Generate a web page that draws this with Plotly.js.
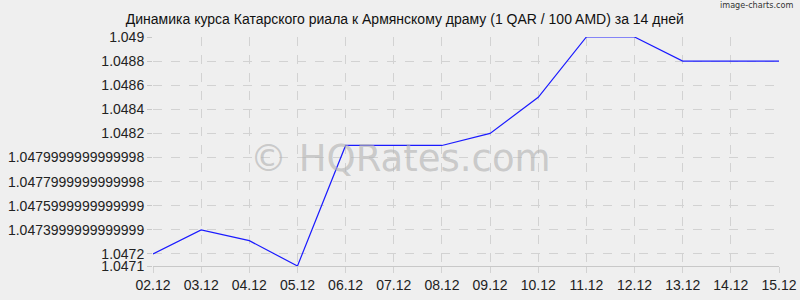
<!DOCTYPE html>
<html>
<head>
<meta charset="utf-8">
<script src="https://cdn.plot.ly/plotly-3.0.1.min.js"></script>
<style>html,body{margin:0;padding:0;background:#efefef;}#chart{width:800px;height:300px;}</style>
</head>
<body>
<div id="chart"></div>
<script>
const dates = ["02.12","03.12","04.12","05.12","06.12","07.12","08.12","09.12","10.12","11.12","12.12","13.12","14.12","15.12"];
const rates = [1.0472,1.0474,1.04731,1.0471,1.0481,1.0481,1.0481,1.0482,1.0485,1.049,1.049,1.0488,1.0488,1.0488];
const yTickVals = [1.049,1.0488,1.0486,1.0484,1.0482,1.048,1.0478,1.0476,1.0474,1.0472,1.0471];
const yTickText = ["1.049","1.0488","1.0486","1.0484","1.0482","1.0479999999999998","1.0477999999999998","1.0475999999999999","1.0473999999999999","1.0472","1.0471"];
const titleText = "Динамика курса Катарского риала к Армянскому драму (1 QAR / 100 AMD) за 14 дней";

const trace = {
  x: dates, y: rates, type: 'scatter', mode: 'lines',
  line: {color: '#1a1aff', width: 1.2}, hoverinfo: 'skip'
};
const layout = {
  width: 800, height: 300,
  paper_bgcolor: '#efefef', plot_bgcolor: '#efefef',
  margin: {l: 153, r: 21, t: 37, b: 34},
  showlegend: false,
  font: {family: 'Liberation Sans, Arial, sans-serif', color: '#222'},
  title: {text: titleText, font: {size: 14, color: '#111'}, x: 0.506, xanchor: 'center', y: 0.937, yanchor: 'middle'},
  xaxis: {
    type: 'category', range: [0, dates.length - 1], fixedrange: true,
    showgrid: true, gridcolor: '#d2d2d2', griddash: 'dash', gridwidth: 1,
    zeroline: false, showline: true, linecolor: '#c8c8c8', linewidth: 1,
    ticks: 'outside', ticklen: 6, tickcolor: '#d2d2d2',
    tickfont: {size: 14, color: '#222'}
  },
  yaxis: {
    range: [1.0471, 1.049], fixedrange: true,
    tickmode: 'array', tickvals: yTickVals, ticktext: yTickText,
    showgrid: true, gridcolor: '#d2d2d2', griddash: 'dash', gridwidth: 1,
    zeroline: false, showline: false,
    ticks: 'outside', ticklen: 5, tickcolor: '#c8c8c8',
    tickfont: {size: 14, color: '#222'}
  },
  annotations: [
    {text: '© HQRates.com', xref: 'paper', yref: 'paper', x: 0.395, y: 0.47, xanchor: 'center', yanchor: 'middle',
     showarrow: false, font: {family: 'DejaVu Sans', size: 37, color: 'rgba(180,180,180,0.65)'}},
    {text: 'image-charts.com', xref: 'paper', yref: 'paper', x: 1.025, y: 1.14, xanchor: 'right', yanchor: 'middle',
     showarrow: false, font: {family: 'DejaVu Sans Condensed', size: 9, color: '#333'}}
  ]
};
Plotly.newPlot('chart', [trace], layout, {displayModeBar: false, staticPlot: true});
</script>
</body>
</html>
